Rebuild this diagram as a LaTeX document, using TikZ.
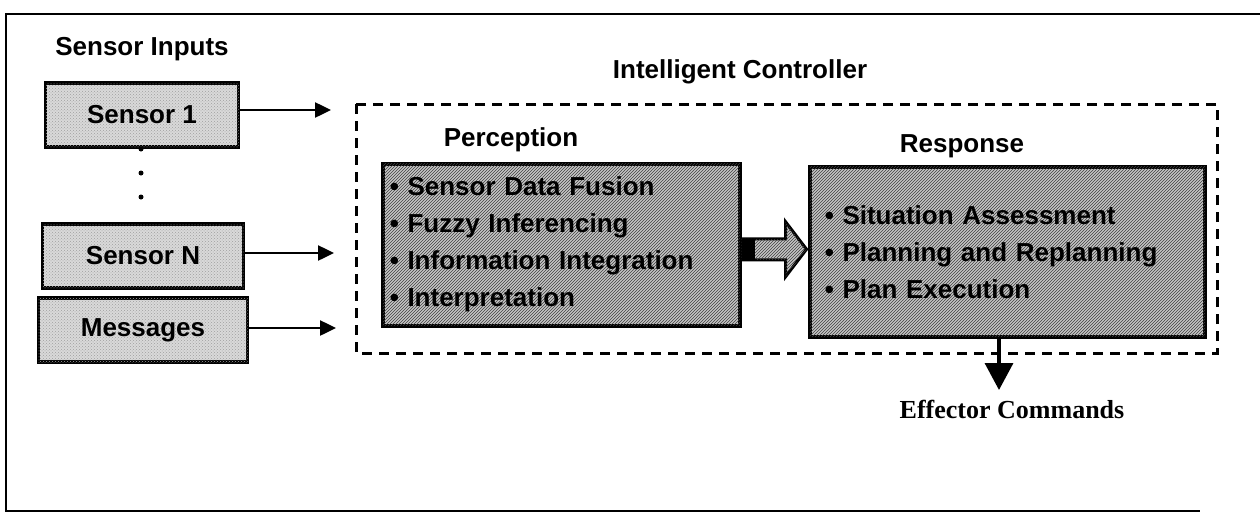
\documentclass[tikz,border=0pt]{standalone}
\usepackage{fontspec}
\setmainfont{Liberation Sans}
\newfontfamily\timesbf{Liberation Serif}
\usetikzlibrary{arrows.meta,patterns,calc}

\begin{document}
\begin{tikzpicture}[x=1pt,y=-1pt,
    sensorbox/.style={draw,line width=3.5pt,fill=gray!30,
      postaction={pattern=crosshatch dots,pattern color=gray!75},
      minimum width=201pt,minimum height=64pt,
      font=\fontsize{26}{30}\selectfont\bfseries},
    listbox/.style={draw,line width=3.5pt,fill=gray!45,
      postaction={pattern=north east lines,pattern color=black!75},
      align=left,anchor=north west,
      font=\fontsize{26}{37}\selectfont\bfseries},
    title/.style={anchor=base,font=\fontsize{26}{30}\selectfont\bfseries},
    inarrow/.style={line width=2.5pt,-{Triangle[length=16pt,width=15pt]}},
    outarrow/.style={line width=3.5pt,-{Triangle[length=27pt,width=28pt]}}]
  \useasboundingbox (0,0) rectangle (1260,522);
  % frame round the figure
  \draw[line width=2.5pt] (1260,14) -- (6,14) -- (6,511) -- (1200,511);
  % inputs
  \node[title] (inputs) at (142,55) {Sensor Inputs};
  \node[sensorbox,minimum width=193pt] (s1) at (142,115) {Sensor 1};
  \node[sensorbox] (sN) at (143,256) {Sensor N};
  \node[sensorbox,minimum width=209pt] (msg) at (143,330) {Messages};
  \foreach \y in {149,173,197} {\fill (141,\y) circle (2.5pt);}
  \coordinate (in1) at (331,110);
  \coordinate (inN) at (334,253);
  \coordinate (inM) at (336,328);
  \foreach \src/\dst in {s1/in1,sN/inN,msg/inM} {
    \draw[inarrow] (\src.east |- \dst) -- (\dst);
  }
  % the controller
  \node[title] (ctrl) at (740,78) {Intelligent Controller};
  \draw[line width=3pt,dash pattern=on 10pt off 7pt] (356,104) rectangle (1217,353);
  \node[title] (perlbl) at (511,146) {Perception};
  \node[listbox,text width=343pt,inner xsep=7pt,minimum height=162pt] (percep)
    at (381,162) {•~Sensor Data Fusion\\•~Fuzzy Inferencing\\•~Information Integration\\•~Interpretation};
  \node[title] (reslbl) at (962,152) {Response};
  \node[listbox,text width=365pt,inner xsep=15pt,minimum height=170pt] (resp)
    at (808,165) {•~Situation Assessment\\•~Planning and Replanning\\•~Plan Execution};
  % fat arrow between them
  \draw[line width=3pt,fill=gray!45,postaction={pattern=north east lines,pattern color=black!75}]
    ($(percep.east)+(0,-6)$) -- ++(44,0) -- ++(0,-17) -- ++(21,27.5)
    -- ++(-21,27.5) -- ++(0,-17) -- ($(percep.east)+(0,15)$) -- cycle;
  \fill ($(percep.east)+(0,-6)$) rectangle ++(13,21);
  % output
  \coordinate (eff) at (999,390);
  \draw[outarrow] (resp.south -| eff) -- (eff);
  \node[anchor=base,font=\timesbf\fontsize{26}{30}\selectfont\bfseries] (efflbl)
    at (1012,418) {Effector Commands};
\end{tikzpicture}
\end{document}
